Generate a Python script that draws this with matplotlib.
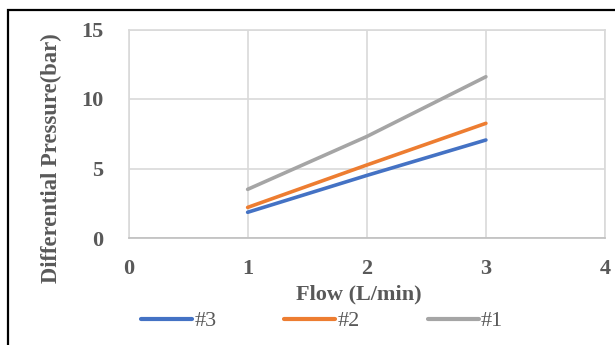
import matplotlib
matplotlib.use("Agg")
import matplotlib.pyplot as plt
from matplotlib.patches import Rectangle

flow = [1, 2, 3]
s3 = [1.85, 4.5, 7.05]
s2 = [2.2, 5.25, 8.25]
s1 = [3.5, 7.3, 11.6]
names = ["#3", "#2", "#1"]
colors = ["#4472c4", "#ed7d31", "#a5a5a5"]
xticks = [0, 1, 2, 3, 4]
yticks = [0, 5, 10, 15]

W, H = 615, 345
fig = plt.figure(figsize=(W / 100, H / 100), dpi=100)
fig.patch.set_facecolor("white")

def fx(px): return px / W
def fy(py): return 1 - py / H

left, right, top, bottom = 128.5, 605, 29.5, 238
ax = fig.add_axes([fx(left), fy(bottom), fx(right) - fx(left), (bottom - top) / H])

for ys, c, n in zip([s3, s2, s1], colors, names):
    ax.plot(flow, ys, color=c, lw=2.6, label=n, solid_capstyle="round")

ax.set_xlim(0, 4)
ax.set_ylim(0, 15)
ax.set_xticks(xticks)
ax.set_yticks(yticks)
ax.grid(True, color="#d9d9d9", lw=1.2)
ax.set_axisbelow(True)
for s in ["top", "right", "left"]:
    ax.spines[s].set_color("#d9d9d9")
    ax.spines[s].set_linewidth(1.2)
ax.spines["bottom"].set_color("#bfbfbf")
ax.spines["bottom"].set_linewidth(1.2)
ax.tick_params(length=0, colors="#595959")
serif = "Liberation Serif"
for lab in ax.get_xticklabels() + ax.get_yticklabels():
    lab.set_fontfamily(serif)
    lab.set_fontweight("bold")
    lab.set_fontsize(16)
    lab.set_color("#595959")
ax.tick_params(axis="x", pad=15)
ax.tick_params(axis="y", pad=18)

fig.text(fx(359), fy(294), "Flow (L/min)", ha="center", va="center",
         fontfamily=serif, fontweight="bold", fontsize=16, color="#595959")
fig.text(fx(51), fy(158), "Differential Pressure(bar)", ha="center", va="center",
         rotation=90, fontfamily=serif, fontweight="bold", fontsize=16.3, color="#595959")

leg = fig.legend(loc="center", bbox_to_anchor=(fx(322), fy(321)), ncol=3, frameon=False,
                 prop={"family": serif, "size": 16}, handlelength=2.3, handletextpad=0.1,
                 columnspacing=3.05, labelcolor="#595959")
for h in leg.get_lines():
    h.set_linewidth(3)

fig.add_artist(Rectangle((fx(8), fy(360)), 1.2, fy(10) - fy(360), transform=fig.transFigure,
                         fill=False, edgecolor="black", lw=1.6))

fig.savefig("out.png", dpi=100)
